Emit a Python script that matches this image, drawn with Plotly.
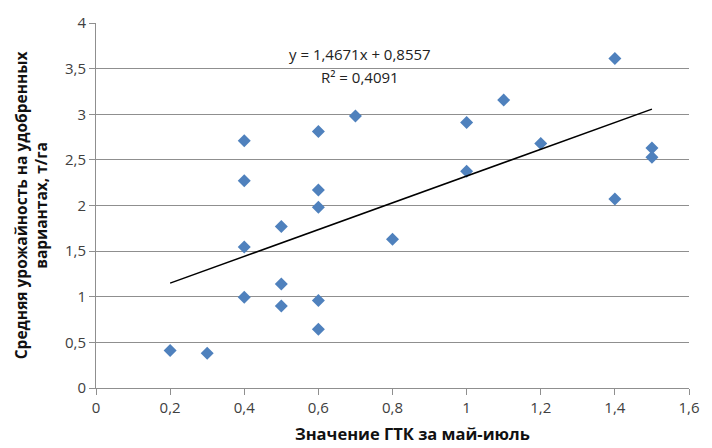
import plotly.graph_objects as go

# Data
gtk = [0.2, 0.3,
       0.4, 0.4, 0.4, 0.4,
       0.5, 0.5, 0.5,
       0.6, 0.6, 0.6, 0.6, 0.6,
       0.7, 0.8,
       1.0, 1.0, 1.1, 1.2,
       1.4, 1.4, 1.5, 1.5]
yield_t = [0.41, 0.38,
           2.71, 2.27, 1.545, 0.995,
           1.77, 1.14, 0.90,
           2.81, 2.17, 1.98, 0.96, 0.645,
           2.98, 1.63,
           2.91, 2.375, 3.155, 2.68,
           3.61, 2.07, 2.63, 2.53]

slope = 1.4671
intercept = 0.8557
r2 = 0.4091

x_fit = [min(gtk), max(gtk)]
y_fit = [slope * v + intercept for v in x_fit]

def fmt(v, n):
    return f"{v:.{n}f}".replace(".", ",")

fig = go.Figure()
fig.add_trace(go.Scatter(
    x=gtk, y=yield_t, mode="markers",
    marker=dict(symbol="diamond", size=10, color="#4F81BD", line=dict(width=0)),
    showlegend=False, hoverinfo="x+y"))
fig.add_trace(go.Scatter(
    x=x_fit, y=y_fit, mode="lines",
    line=dict(color="black", width=1.5),
    showlegend=False, hoverinfo="skip"))

tick_font = dict(family="Open Sans, sans-serif", size=15, color="#404040")
grid_col = "#8f8f8f"

fig.update_layout(
    width=712, height=448,
    margin=dict(l=96, r=16, t=22, b=60),
    plot_bgcolor="white", paper_bgcolor="white",
    separators=", ",
    font=dict(family="Open Sans, sans-serif", color="#222222"),
    xaxis=dict(range=[0, 1.6], dtick=0.2, tick0=0, showgrid=False,
               showline=True, linecolor=grid_col, linewidth=1,
               ticks="outside", ticklen=6, tickcolor=grid_col,
               tickfont=tick_font, zeroline=False, fixedrange=True),
    yaxis=dict(range=[0, 4], dtick=0.5, tick0=0, showgrid=True,
               gridcolor=grid_col, gridwidth=1,
               showline=True, linecolor=grid_col, linewidth=1,
               ticks="outside", ticklen=6, tickcolor=grid_col,
               tickfont=tick_font, zeroline=False, fixedrange=True),
    annotations=[
        dict(text=f"y = {fmt(slope, 4)}x + {fmt(intercept, 4)}",
             xref="paper", yref="paper", x=0.445, y=0.948,
             showarrow=False, font=dict(size=15, color="#222222")),
        dict(text=f"R² = {fmt(r2, 4)}",
             xref="paper", yref="paper", x=0.445, y=0.885,
             showarrow=False, font=dict(size=15, color="#222222")),
        dict(text="<b>Значение ГТК за май-июль</b>",
             xref="paper", yref="paper", x=0.533, y=-0.124,
             xanchor="center", yanchor="middle",
             showarrow=False, font=dict(size=16.5, color="#111111")),
        dict(text="<b>Средняя урожайность на удобренных<br>вариантах, т/га</b>",
             xref="paper", yref="paper", x=-0.11, y=0.5,
             xanchor="center", yanchor="middle", textangle=-90,
             showarrow=False, font=dict(size=15.5, color="#111111")),
    ],
)

fig.write_html("out.html")
